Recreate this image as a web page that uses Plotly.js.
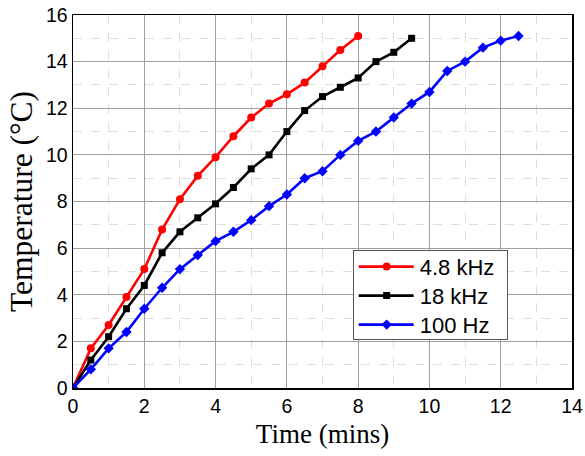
<!DOCTYPE html>
<html>
<head>
<meta charset="utf-8">
<script src="https://cdn.plot.ly/plotly-3.0.1.min.js"></script>
<style>html,body{margin:0;padding:0;background:#fff;}#chart{width:585px;height:456px;}</style>
</head>
<body>
<div id="chart"></div>
<script>
const seriesNames = ["4.8 kHz", "18 kHz", "100 Hz"];
const timeRed = [0,0.5,1,1.5,2,2.5,3,3.5,4,4.5,5,5.5,6,6.5,7,7.5,8];
const tempRed = [0,1.7,2.7,3.9,5.1,6.8,8.1,9.1,9.9,10.8,11.6,12.2,12.6,13.1,13.8,14.5,15.1];
const timeBlack = [0,0.5,1,1.5,2,2.5,3,3.5,4,4.5,5,5.5,6,6.5,7,7.5,8,8.5,9,9.5];
const tempBlack = [0,1.2,2.2,3.4,4.4,5.8,6.7,7.3,7.9,8.6,9.4,10.0,11.0,11.9,12.5,12.9,13.3,14.0,14.4,15.0];
const timeBlue = [0,0.5,1,1.5,2,2.5,3,3.5,4,4.5,5,5.5,6,6.5,7,7.5,8,8.5,9,9.5,10,10.5,11,11.5,12,12.5];
const tempBlue = [0,0.8,1.7,2.4,3.4,4.3,5.1,5.7,6.3,6.7,7.2,7.8,8.3,9.0,9.3,10.0,10.6,11.0,11.6,12.2,12.7,13.6,14.0,14.6,14.9,15.1];
const xTicks = [0,2,4,6,8,10,12,14];
const yTicks = [0,2,4,6,8,10,12,14,16];

const traces = [
  {x: timeRed, y: tempRed, name: seriesNames[0], mode: 'lines+markers',
   line: {color: '#ff0000', width: 2.6}, marker: {symbol: 'circle', size: 8, color: '#ff0000'}},
  {x: timeBlack, y: tempBlack, name: seriesNames[1], mode: 'lines+markers',
   line: {color: '#000000', width: 2.6}, marker: {symbol: 'square', size: 7, color: '#000000'}},
  {x: timeBlue, y: tempBlue, name: seriesNames[2], mode: 'lines+markers',
   line: {color: '#0000ff', width: 2.6}, marker: {symbol: 'diamond', size: 8, color: '#0000ff'}}
];

const axisCommon = {
  showline: true, linecolor: '#000', linewidth: 1.5, mirror: true,
  showgrid: true, gridcolor: '#a0a0a0', gridwidth: 1,
  zeroline: false, ticks: '',
  tickfont: {family: 'Liberation Sans, Arial', size: 19.5, color: '#000'},
  minor: {dtick: 1, showgrid: true, gridcolor: '#dddddd', griddash: 'dash', gridwidth: 1}
};

const layout = {
  width: 585, height: 456,
  margin: {l: 73, r: 13, t: 15, b: 68},
  paper_bgcolor: '#fff', plot_bgcolor: '#fff',
  showlegend: true,
  xaxis: Object.assign({}, axisCommon, {
    range: [0, 14], tickvals: xTicks, ticktext: xTicks.map(String),
    title: {text: 'Time (mins)', font: {family: 'Liberation Serif, Times New Roman', size: 27, color: '#000'}, standoff: 8}
  }),
  yaxis: Object.assign({}, axisCommon, {
    range: [0, 16], tickvals: yTicks, ticktext: yTicks.map(String),
    title: {text: 'Temperature (°C)', font: {family: 'Liberation Serif, Times New Roman', size: 31.5, color: '#000'}, standoff: 4}
  }),
  legend: {
    x: 0.5605, y: 0.371, xanchor: 'left', yanchor: 'top',
    bgcolor: '#fff', bordercolor: '#555', borderwidth: 1,
    font: {family: 'Liberation Sans, Arial', size: 22, color: '#000'},
    itemwidth: 56, tracegroupgap: 0
  }
};

function fixLegend() {
  const gd = document.getElementById('chart');
  gd.querySelectorAll('g.legendlines path').forEach(function (p) {
    p.setAttribute('d', 'M5,0h55');
  });
  gd.querySelectorAll('g.legendpoints path.scatterpts').forEach(function (p) {
    p.setAttribute('transform', 'translate(33,0)');
  });
  const items = gd.querySelectorAll('g.legend g.traces');
  items.forEach(function (g, i) {
    g.setAttribute('transform', 'translate(1,' + (17 + 29 * i) + ')');
  });
  const bg = gd.querySelector('g.legend rect.bg');
  if (bg) {
    bg.setAttribute('height', '89');
    bg.setAttribute('width', '154');
  }
}

Plotly.newPlot('chart', traces, layout, {displayModeBar: false, staticPlot: true}).then(function (gd) {
  fixLegend();
  gd.on && gd.on('plotly_afterplot', fixLegend);
  setTimeout(fixLegend, 0);
  setTimeout(fixLegend, 100);
  setTimeout(fixLegend, 400);
});
</script>
</body>
</html>
